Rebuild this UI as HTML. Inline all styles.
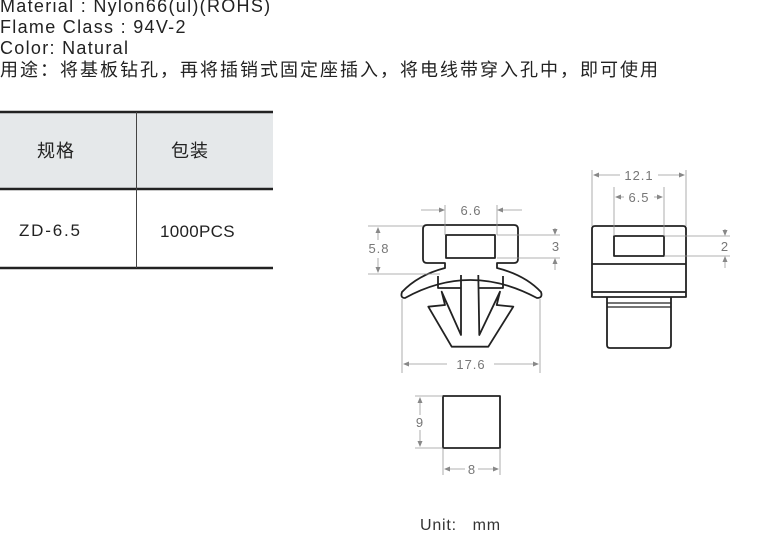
<!DOCTYPE html>
<html><head><meta charset="utf-8"><style>
html,body{margin:0;padding:0;background:#fff;width:780px;height:559px;overflow:hidden;position:relative}
.t{position:absolute;left:0;font:18px "Liberation Sans","Noto Sans CJK SC",sans-serif;color:#222;white-space:nowrap;line-height:21px;letter-spacing:1.3px}
</style></head><body>
<div class="t" style="top:-4px">Material : Nylon66(ul)(ROHS)</div>
<div class="t" style="top:17px">Flame Class : 94V-2</div>
<div class="t" style="top:38px">Color: Natural</div>
<div class="t" style="top:60px;font-size:18px;letter-spacing:2px">用途：将基板钻孔，再将插销式固定座插入，将电线带穿入孔中，即可使用</div>
<svg width="780" height="559" style="position:absolute;left:0;top:0" font-family="Liberation Sans, Noto Sans CJK SC, sans-serif">
<rect x="0" y="112" width="273" height="77" fill="#e5e8ea"/>
<line x1="0" y1="112" x2="273" y2="112" stroke="#222" stroke-width="2.5"/>
<line x1="0" y1="189" x2="273" y2="189" stroke="#222" stroke-width="2.5"/>
<line x1="0" y1="268" x2="273" y2="268" stroke="#222" stroke-width="2.5"/>
<line x1="136.5" y1="112" x2="136.5" y2="268" stroke="#444" stroke-width="1"/>
<text x="37" y="157" font-size="18" fill="#222" letter-spacing="1">规格</text>
<text x="171" y="157" font-size="18" fill="#222" letter-spacing="1">包装</text>
<text x="19" y="236" font-size="17" fill="#222" letter-spacing="1.8">ZD-6.5</text>
<text x="160" y="237" font-size="17" fill="#222" letter-spacing="0.3">1000PCS</text>

<g fill="none" stroke="#222" stroke-width="1.8" stroke-linejoin="round">
<path d="M445,268 L445,263 L427,263 Q423,263 423,259 L423,229 Q423,225 427,225 L514,225 Q518,225 518,229 L518,259 Q518,263 514,263 L497,263 L497,268 Q525,275 541,292 Q543,298 537,298 Q470,262 405,298 Q400,298 402,292 Q418,275 445,268 Z"/>
<rect x="446" y="235" width="49" height="23"/>
<path d="M438,276 L438,288 L461,288 M503,276 L503,288 L479,288"/>
<path d="M461,275 L461,335 L441.7,291.7 L445,305 L428.3,306.7 L451.7,346.7 L488.3,346.7 L513.3,306.7 L496.7,305 L500,291.7 L479.3,335 L478.3,275"/>
<path d="M592,297 L592,229 Q592,226 595,226 L683,226 Q686,226 686,229 L686,297 Z"/>
<rect x="614" y="236" width="50" height="20"/>
<line x1="592" y1="264" x2="686" y2="264"/>
<line x1="592" y1="292" x2="686" y2="292"/>
<path d="M607,297 L607,345 Q607,348 610,348 L668,348 Q671,348 671,345 L671,297"/>
<line x1="607" y1="303" x2="671" y2="303" stroke-width="1.2"/>
<line x1="607" y1="307" x2="671" y2="307" stroke-width="1.2"/>
<rect x="443" y="396" width="57" height="52"/>
</g>

<g stroke="#999" stroke-width="0.8" fill="none">
<line x1="445" y1="205" x2="445" y2="235"/><line x1="497" y1="205" x2="497" y2="235"/>
<line x1="421" y1="210" x2="443" y2="210"/><line x1="499" y1="210" x2="522" y2="210"/>
<line x1="368" y1="226" x2="423" y2="226"/><line x1="368" y1="274" x2="440" y2="274"/>
<line x1="378" y1="228" x2="378" y2="240"/><line x1="378" y1="258" x2="378" y2="272"/>
<line x1="497" y1="235" x2="560" y2="235"/><line x1="497" y1="258" x2="560" y2="258"/>
<line x1="555" y1="228" x2="555" y2="233"/><line x1="555" y1="260" x2="555" y2="270"/>
<line x1="402" y1="299" x2="402" y2="373"/><line x1="540" y1="299" x2="540" y2="373"/>
<line x1="404" y1="364" x2="447" y2="364"/><line x1="494" y1="364" x2="538" y2="364"/>
<line x1="592" y1="170" x2="592" y2="226"/><line x1="686" y1="170" x2="686" y2="226"/>
<line x1="594" y1="175" x2="620" y2="175"/><line x1="658" y1="175" x2="684" y2="175"/>
<line x1="614" y1="187" x2="614" y2="236"/><line x1="664" y1="187" x2="664" y2="236"/>
<line x1="616" y1="197" x2="624" y2="197"/><line x1="654" y1="197" x2="662" y2="197"/>
<line x1="664" y1="236" x2="730" y2="236"/><line x1="664" y1="256" x2="730" y2="256"/>
<line x1="725" y1="229" x2="725" y2="234"/><line x1="725" y1="258" x2="725" y2="268"/>
<line x1="415" y1="396" x2="443" y2="396"/><line x1="415" y1="448" x2="443" y2="448"/>
<line x1="420" y1="398" x2="420" y2="415"/><line x1="420" y1="430" x2="420" y2="446"/>
<line x1="443" y1="448" x2="443" y2="475"/><line x1="500" y1="448" x2="500" y2="475"/>
<line x1="445" y1="469" x2="465" y2="469"/><line x1="478" y1="469" x2="498" y2="469"/>
</g>
<g fill="#888">
<path d="M445,210 l-6,-2.5 v5z"/><path d="M497,210 l6,-2.5 v5z"/>
<path d="M378,227 l-2.5,6 h5z"/><path d="M378,273 l-2.5,-6 h5z"/>
<path d="M555,235 l-2.5,-6 h5z"/><path d="M555,258 l-2.5,6 h5z"/>
<path d="M403,364 l6,-2.5 v5z"/><path d="M539,364 l-6,-2.5 v5z"/>
<path d="M593,175 l6,-2.5 v5z"/><path d="M685,175 l-6,-2.5 v5z"/>
<path d="M615,197 l6,-2.5 v5z"/><path d="M663,197 l-6,-2.5 v5z"/>
<path d="M725,236 l-2.5,-6 h5z"/><path d="M725,256 l-2.5,6 h5z"/>
<path d="M420,397 l-2.5,6 h5z"/><path d="M420,447 l-2.5,-6 h5z"/>
<path d="M444,469 l6,-2.5 v5z"/><path d="M499,469 l-6,-2.5 v5z"/>
</g>
<g fill="#777" font-size="13" text-anchor="middle" letter-spacing="1">
<text x="471" y="215">6.6</text>
<text x="379" y="253">5.8</text>
<text x="556" y="251">3</text>
<text x="471" y="369">17.6</text>
<text x="639" y="180">12.1</text>
<text x="639" y="202">6.5</text>
<text x="725" y="251">2</text>
<text x="420" y="427">9</text>
<text x="472" y="474">8</text>
</g>
<text x="420" y="530" font-size="16" fill="#333" letter-spacing="0.8" xml:space="preserve">Unit:   mm</text>
</svg>
</body></html>
